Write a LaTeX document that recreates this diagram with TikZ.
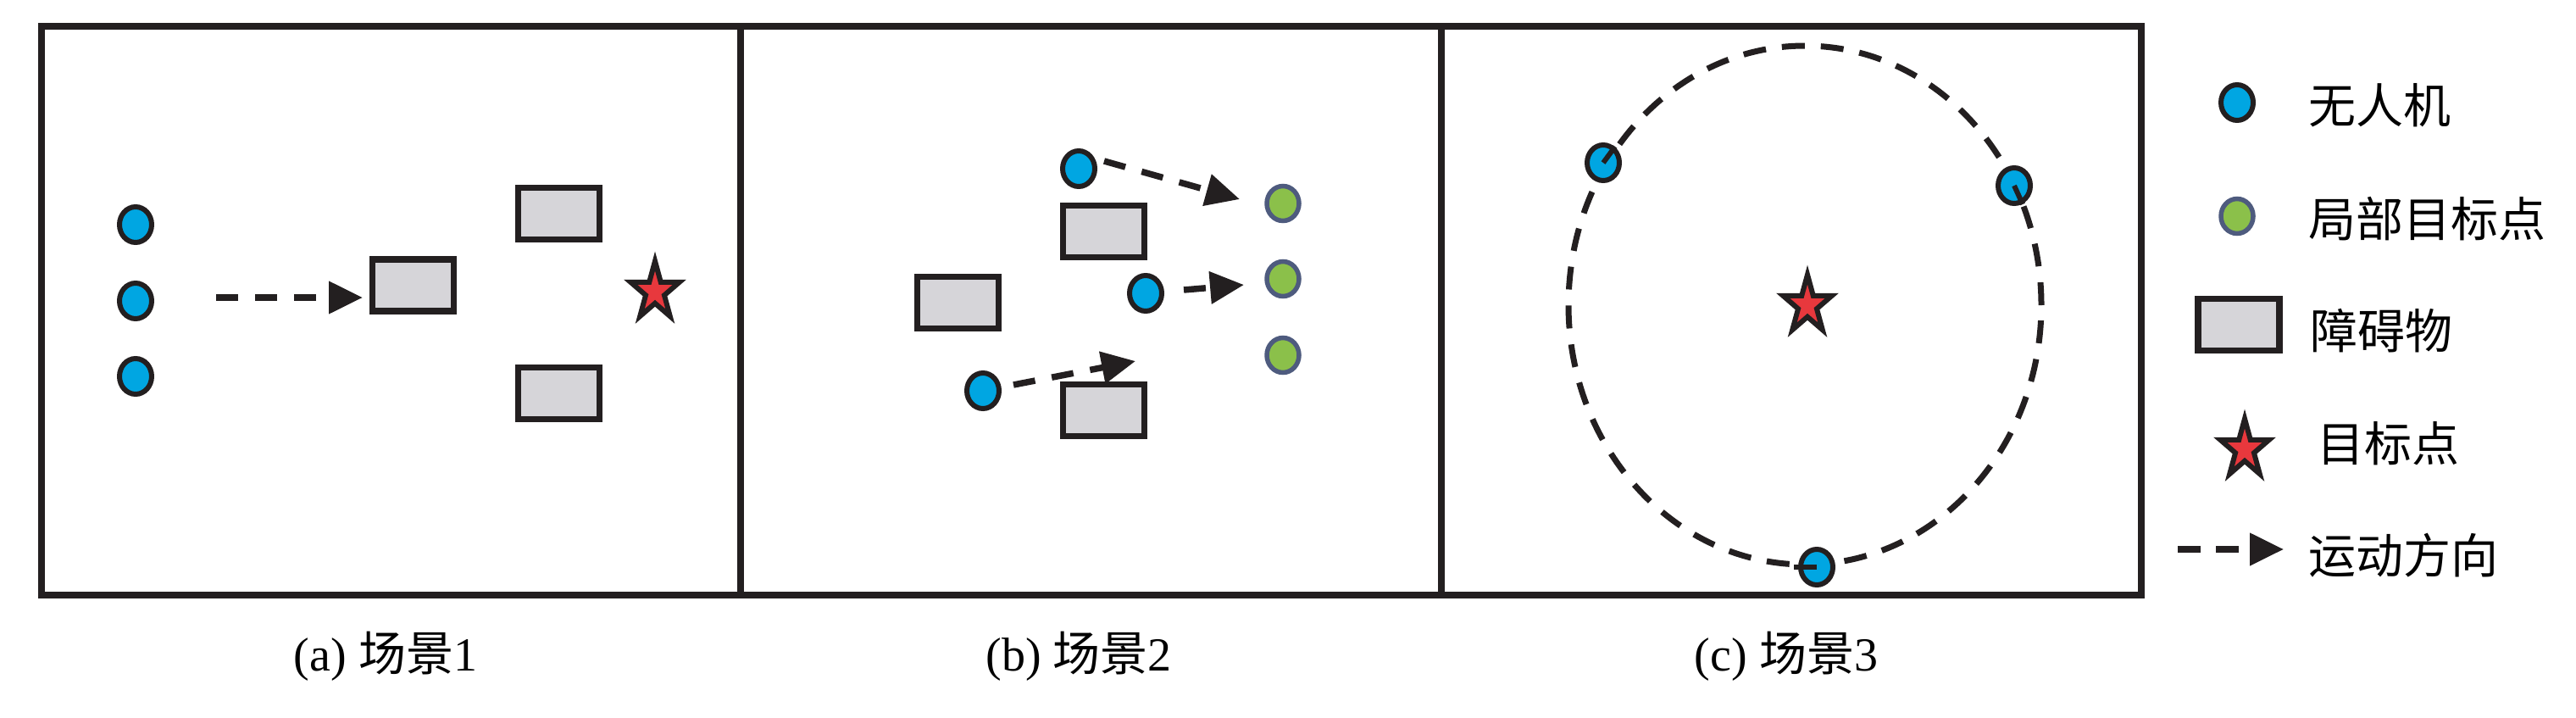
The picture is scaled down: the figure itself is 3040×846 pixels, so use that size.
\documentclass[tikz,border=0pt]{standalone}
\usepackage{fontspec}
\setmainfont{Liberation Serif}
\newfontfamily\cjk{Noto Sans CJK SC}
\usetikzlibrary{shapes.geometric,arrows.meta}
\definecolor{ink}{HTML}{231F20}
\definecolor{uavblue}{HTML}{00A6E2}
\definecolor{goalgreen}{HTML}{8BC04A}
\definecolor{goalrim}{HTML}{4E5B7E}
\definecolor{obsgray}{HTML}{D6D5D9}
\definecolor{starred}{HTML}{E8383D}
\tikzset{
  panel/.style={rectangle, draw=ink, line width=7.5pt, inner sep=0pt},
  uav/.style={ellipse, draw=ink, fill=uavblue, line width=6pt, minimum width=38pt, minimum height=42pt, inner sep=0pt},
  goal/.style={ellipse, draw=goalrim, fill=goalgreen, line width=5.5pt, minimum width=38pt, minimum height=41pt, inner sep=0pt},
  obstacle/.style={rectangle, draw=ink, fill=obsgray, line width=7.5pt, minimum width=96pt, minimum height=61pt, inner sep=0pt},
  target/.style={star, star points=5, star point ratio=2.618, draw=ink, fill=starred, line width=6pt, minimum size=72pt, inner sep=0pt, transform shape},
  motion/.style={draw=ink, line width=7.5pt, dash pattern=on 26pt off 20pt, -{Triangle[length=40pt,width=37pt]}},
  heading/.style={draw=ink, line width=6pt},
  orbit/.style={ellipse, draw=ink, line width=7pt, dash pattern=on 27pt off 19pt, inner sep=0pt},
  caption/.style={anchor=base, inner sep=0pt, font=\fontsize{56}{60}\selectfont},
  legtext/.style={anchor=west, inner sep=0pt, font=\fontsize{56}{60}\selectfont\cjk}
}
\begin{document}
\begin{tikzpicture}[x=1pt,y=-1pt]
\useasboundingbox (0,0) rectangle (3040,846);
% panels
\node[panel, minimum width=825pt, minimum height=671pt] (pa) at (461.5,366.5) {};
\node[panel, minimum width=827pt, minimum height=671pt] (pb) at (1287.5,366.5) {};
\node[panel, minimum width=826pt, minimum height=671pt] (pc) at (2114,366.5) {};

% ---------- panel (a)
\node[uav] (a1) at (160,265) {};
\node[uav] (a2) at (160,355) {};
\node[uav] (a3) at (160,444) {};
\node[obstacle] (ao1) at (487.5,336.5) {};
\node[obstacle] (ao2) at (659.5,252) {};
\node[obstacle] (ao3) at (659.5,464) {};
\begin{scope}[shift={(773,344)}, xscale=0.84]
  \node[target] (at) at (0,0) {};
\end{scope}
\coordinate (as) at (255,351);
\coordinate (ae) at (428,351);
\draw[motion] (as) -- (ae);

% ---------- panel (b)
\node[obstacle] (bo1) at (1302.5,273) {};
\node[obstacle] (bo2) at (1130.5,357) {};
\node[obstacle] (bo3) at (1302.5,484) {};
\node[uav] (b1) at (1273,199) {};
\node[uav] (b2) at (1352,346) {};
\node[uav] (b3) at (1160,461) {};
\node[goal] (g1) at (1514,240) {};
\node[goal] (g2) at (1514,329) {};
\node[goal] (g3) at (1514,419) {};
\coordinate (bt1) at (1463,235);
\coordinate (bt2) at (1468,336);
\coordinate (bt3) at (1340,426);
\draw[motion] ([shift={(30,-9)}]b1.center) -- (bt1);
\draw[motion] ([shift={(45,-4)}]b2.center) -- (bt2);
\draw[motion] ([shift={(36,-7)}]b3.center) -- (bt3);

% ---------- panel (c)
\node[orbit, minimum width=558pt, minimum height=612pt] (orb) at (2130,360) {};
\begin{scope}[shift={(2133,360)}, xscale=0.84]
  \node[target] (ct) at (0,0) {};
\end{scope}
\node[uav] (c1) at (1892,192) {};
\node[uav] (c2) at (2377,219) {};
\node[uav] (c3) at (2144,669) {};
\draw[heading] (c1.center) -- ++(14,-19);
\draw[heading] (c2.center) -- ++(10,22);
\draw[heading] (c3.center) -- ++(-27,0);

% ---------- captions
\node[caption] (capa) at (455,791) {(a) {\cjk 场景}1};
\node[caption] (capb) at (1273,791) {(b) {\cjk 场景}2};
\node[caption] (capc) at (2108,791) {(c) {\cjk 场景}3};

% ---------- legend
\node[uav] (k1) at (2640,121) {};
\node[goal] (k2) at (2640,255) {};
\node[obstacle] (k3) at (2642,383) {};
\begin{scope}[shift={(2649,530)}, xscale=0.84]
  \node[target] (k4) at (0,0) {};
\end{scope}
\coordinate (k5s) at (2570,648);
\coordinate (k5e) at (2695,648);
\draw[motion, dash pattern=on 27pt off 18pt] (k5s) -- (k5e);

\node[legtext] (t1) at (2724,124) {无人机};
\node[legtext] (t2) at (2724,258) {局部目标点};
\node[legtext] (t3) at (2726,390) {障碍物};
\node[legtext] (t4) at (2734,523) {目标点};
\node[legtext] (t5) at (2724,655) {运动方向};
\end{tikzpicture}
\end{document}
